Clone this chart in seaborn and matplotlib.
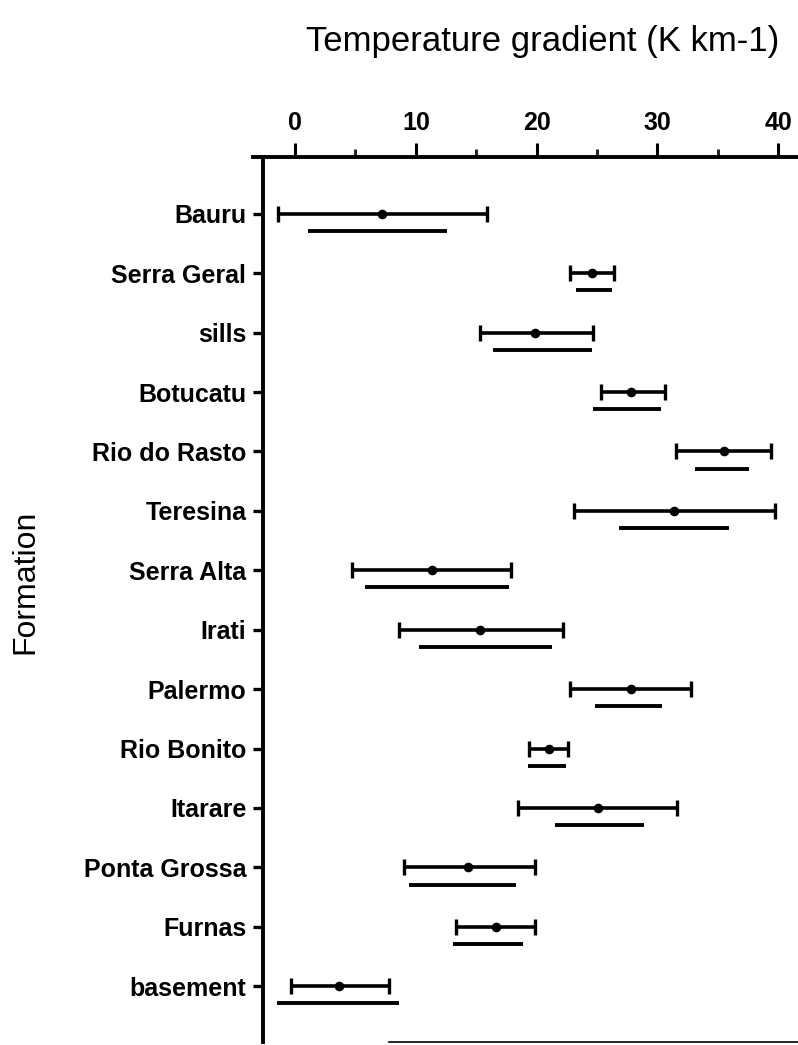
import numpy as np
import pandas as pd
import matplotlib
matplotlib.use("Agg")
import matplotlib.pyplot as plt
import seaborn as sns

formations = ["Bauru", "Serra Geral", "sills", "Botucatu", "Rio do Rasto", "Teresina",
              "Serra Alta", "Irati", "Palermo", "Rio Bonito", "Itarare", "Ponta Grossa",
              "Furnas", "basement"]
mean_grad = [7.2, 24.6, 19.9, 27.8, 35.5, 31.4, 11.3, 15.3, 27.8, 21.0, 25.1, 14.3, 16.6, 3.6]
err_low = [-1.4, 22.8, 15.3, 25.3, 31.5, 23.1, 4.7, 8.6, 22.8, 19.4, 18.5, 9.0, 13.3, -0.3]
err_high = [15.9, 26.4, 24.7, 30.6, 39.4, 39.7, 17.9, 22.2, 32.8, 22.6, 31.6, 19.9, 19.9, 7.8]
range_low = [1.1, 23.3, 16.4, 24.7, 33.1, 26.8, 5.8, 10.3, 24.8, 19.3, 21.5, 9.4, 13.1, -1.5]
range_high = [12.6, 26.2, 24.6, 30.3, 37.6, 35.9, 17.7, 21.3, 30.4, 22.4, 28.9, 18.3, 18.9, 8.6]
major_ticks = [0, 10, 20, 30, 40]
minor_ticks = [5, 15, 25, 35]

sns.set_theme(style="white")
plt.rcParams["font.family"] = ["Liberation Sans", "DejaVu Sans"]

df = pd.DataFrame({"formation": formations, "mean": mean_grad,
                   "lo": err_low, "hi": err_high,
                   "rlo": range_low, "rhi": range_high})
df["pos"] = np.arange(len(df))

fig = plt.figure(figsize=(7.98, 10.45), dpi=100)
ax = fig.add_axes([253 / 798, 3 / 1045, 545 / 798, 885 / 1045])

xerr = np.vstack([df["mean"] - df["lo"], df["hi"] - df["mean"]])
ax.errorbar(df["mean"], df["pos"], xerr=xerr, fmt="none", ecolor="black",
            elinewidth=2.6, capsize=6, capthick=2.4, zorder=2)
sns.scatterplot(data=df, x="mean", y="pos", color="black", s=48,
                linewidth=0, ax=ax, zorder=3)
ax.hlines(df["pos"] + 0.29, df["rlo"], df["rhi"], color="black", lw=2.8, zorder=2)

ax.set_xlim(-3.48, 41.64)
ax.set_ylim(13.94, -0.956)

ax.spines["right"].set_visible(False)
for s in ["left", "top", "bottom"]:
    ax.spines[s].set_color("black")
ax.spines["left"].set_position(("data", -2.65))
ax.spines["left"].set_linewidth(2.8)
ax.spines["top"].set_linewidth(2.8)
ax.spines["bottom"].set_linewidth(1.2)
ax.spines["bottom"].set_bounds(7.8, 41.64)

ax.xaxis.tick_top()
ax.set_xticks(major_ticks)
ax.set_xticks(minor_ticks, minor=True)
ax.set_xticklabels([str(t) for t in major_ticks], fontweight="bold")
ax.tick_params(axis="x", which="major", top=True, bottom=False, length=10, width=2.2,
               direction="out", pad=6, labelsize=18, colors="black")
ax.tick_params(axis="x", which="minor", top=True, bottom=False, length=6, width=2.2,
               direction="out")

ax.set_yticks(df["pos"])
ax.set_yticklabels(formations, fontweight="bold")
ax.tick_params(axis="y", left=True, length=7, width=2.4, direction="out", pad=5,
               labelsize=18, colors="black")

ax.xaxis.set_label_position("top")
ax.set_xlabel("Temperature gradient (K km-1)", fontsize=25, color="black", va="center")
ax.xaxis.set_label_coords(0.532, 1.13)
ax.set_ylabel("Formation", fontsize=23, color="black", va="center")
ax.yaxis.set_label_coords(-0.418, 0.52)
ax.grid(False)

fig.savefig("out.png", dpi=100)
